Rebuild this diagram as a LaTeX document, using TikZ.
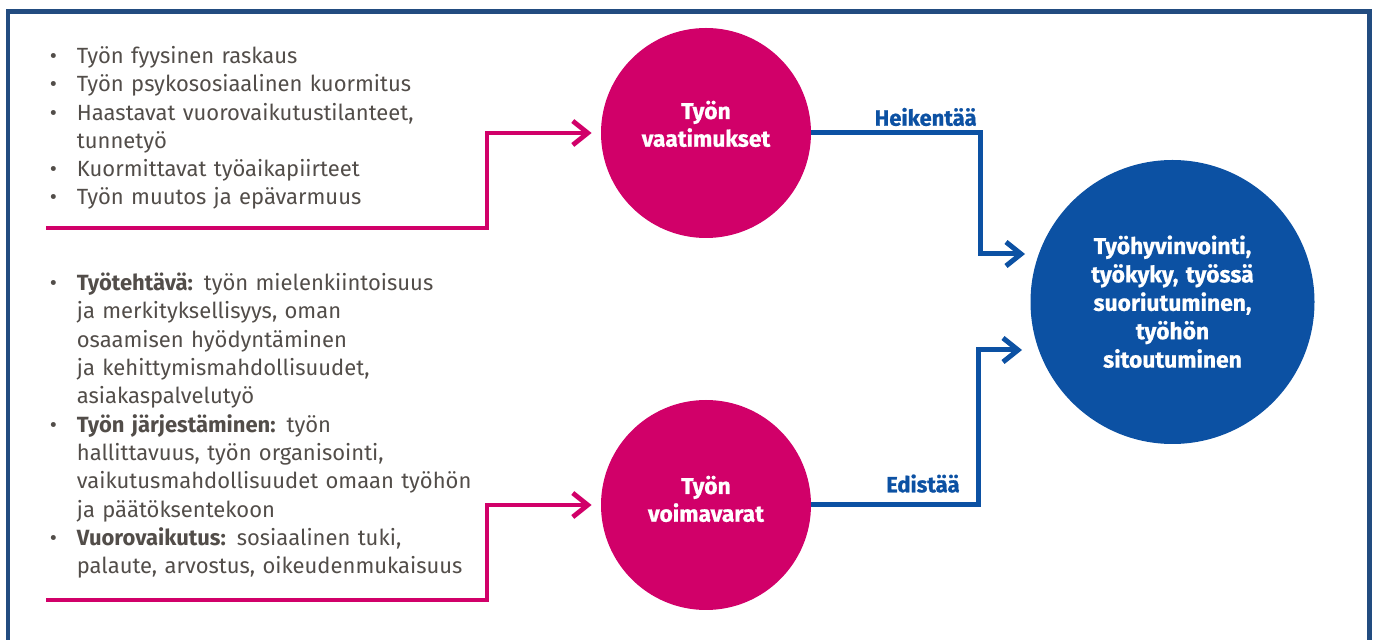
\documentclass[tikz,border=0pt]{standalone}
\usepackage{fontspec}
\setmainfont{Fira Sans}
\newfontfamily\heavyfont[BoldFeatures={FakeBold=0.8}]{Fira Sans}
\usetikzlibrary{arrows.meta}
\definecolor{pinkc}{HTML}{D10069}
\definecolor{bluec}{HTML}{0C51A3}
\definecolor{framec}{HTML}{224C80}
\definecolor{txtgray}{HTML}{524D49}
\newcommand\mybul{\leavevmode\llap{\makebox[13.5pt][l]{\textbullet}}}
\begin{document}
\begin{tikzpicture}[x=0.5pt,y=-0.5pt,
  listtext/.style={inner sep=0pt, anchor=base west, text width=240pt, align=left, text=txtgray, font=\fontsize{11}{14.15}\selectfont},
  pcirc/.style={circle, inner sep=0pt, minimum size=105pt, fill=pinkc},
  bcirc/.style={circle, inner sep=0pt, minimum size=142pt, fill=bluec},
  ctext/.style={inner sep=0pt, anchor=base, text width=130pt, align=center, text=white, font=\heavyfont\bfseries\fontsize{11.4}{13.85}\selectfont},
  btext/.style={inner sep=0pt, anchor=base, text width=130pt, align=center, text=white, font=\heavyfont\bfseries\fontsize{11.4}{14.2}\selectfont},
  lbl/.style={inner sep=0pt, anchor=base east, text=bluec, font=\heavyfont\bfseries\fontsize{11}{13}\selectfont},
  pconn/.style={draw=pinkc, line width=2.4pt, -{Straight Barb[length=7.5pt,width=12pt]}},
  bconn/.style={draw=bluec, line width=2.5pt, -{Straight Barb[length=7.5pt,width=12pt]}},
  framestyle/.style={draw=framec, line width=2.4pt}
]
\useasboundingbox (0,0) rectangle (1377,640);
% frame
\coordinate (f1) at (8,640);
\coordinate (f2) at (8,11.7);
\coordinate (f3) at (1369.7,11.7);
\coordinate (f4) at (1369.7,640);
\draw[framestyle] (f1) -- (f2) -- (f3) -- (f4);

% circles
\node[pcirc] (vaat) at (706,133) {};
\node[pcirc] (voim) at (706,505) {};
\node[bcirc] (hyv) at (1172.5,302) {};
\node[ctext] (vaattxt) at (706,119) {Työn\\vaatimukset};
\node[ctext] (voimtxt) at (706,494) {Työn\\voimavarat};
\node[btext] (hyvtxt) at (1172.5,254) {Työhyvinvointi,\\työkyky, työssä\\suoriutuminen,\\työhön\\sitoutuminen};

% lists
\node[listtext] (list1) at (76.5,63.5) {\mybul Työn fyysinen raskaus\\
\mybul Työn psykososiaalinen kuormitus\\
\mybul Haastavat vuorovaikutustilanteet,\\
tunnetyö\\
\mybul Kuormittavat työaikapiirteet\\
\mybul Työn muutos ja epävarmuus};
\node[listtext] (list2) at (76.5,290.7) {\mybul\textbf{Työtehtävä:} työn mielenkiintoisuus\\
ja merkityksellisyys, oman\\
osaamisen hyödyntäminen\\
ja kehittymismahdollisuudet,\\
asiakaspalvelutyö\\
\mybul\textbf{Työn järjestäminen:} työn\\
hallittavuus, työn organisointi,\\
vaikutusmahdollisuudet omaan työhön\\
ja päätöksentekoon\\
\mybul\textbf{Vuorovaikutus:} sosiaalinen tuki,\\
palaute, arvostus, oikeudenmukaisuus};

% pink connectors
\coordinate (pa) at (46,228);
\coordinate (pb) at (487,133);
\coordinate (pc) at (46,600);
\coordinate (pd) at (487,505);
\draw[pconn] (pa) -| (pb) -- ([xshift=-4.5pt]vaat.west);
\draw[pconn] (pc) -| (pd) -- ([xshift=-4.5pt]voim.west);

% blue connectors
\coordinate (bq1) at (980,254);
\coordinate (bt1) at (1025,254);
\coordinate (bq2) at (978,350);
\coordinate (bt2) at (1022,350);
\draw[bconn] (vaat.east) -| (bq1) -- (bt1);
\draw[bconn] (voim.east) -| (bq2) -- (bt2);

\node[lbl] (heik) at (977,125.7) {Heikentää};
\node[lbl] (edis) at (960,492.3) {Edistää};
\end{tikzpicture}
\end{document}
